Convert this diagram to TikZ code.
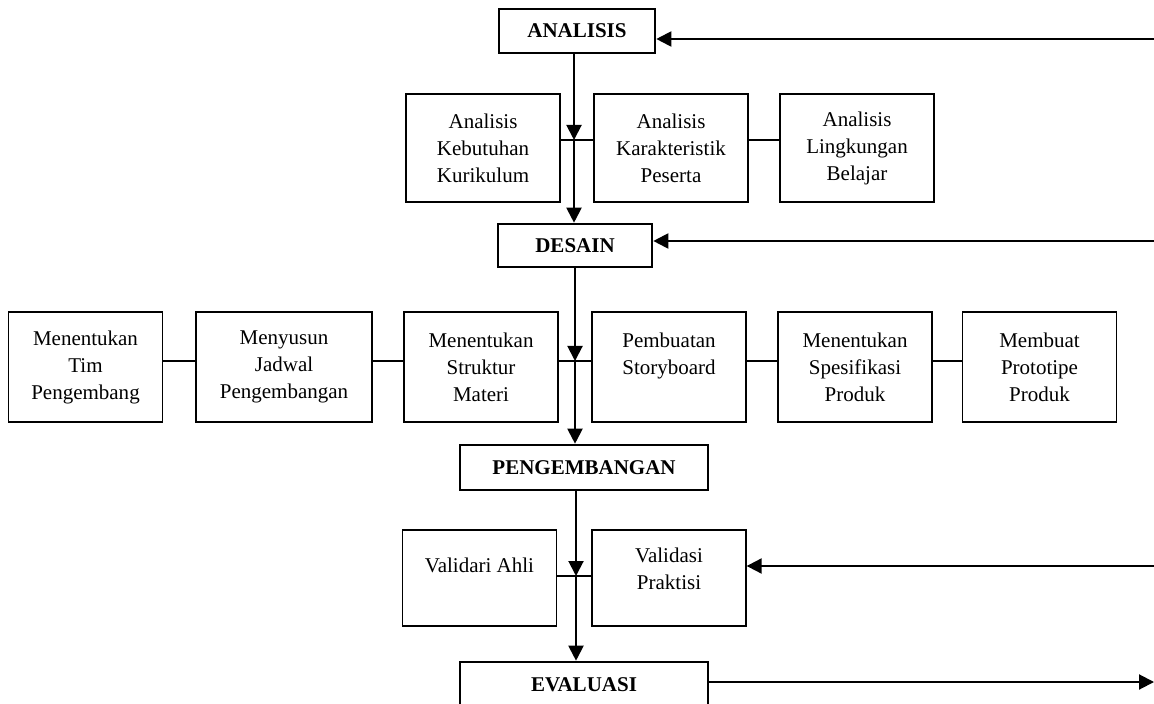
\documentclass[tikz,border=0pt]{standalone}
\usepackage{fontspec}
\setmainfont{Liberation Serif}
\usetikzlibrary{positioning, arrows.meta}

\begin{document}
\begin{tikzpicture}[x=0.5pt, y=-0.5pt,
    every node/.style={align=center, font=\fontsize{10.5}{13.5}\selectfont},
    stage/.style={draw, line width=1.3pt, minimum width=78pt, minimum height=22pt, font=\fontsize{10.5}{13.5}\selectfont\bfseries},
    box/.style={draw, line width=0.65pt, minimum width=77pt},
    flow/.style={line width=1pt, -{Triangle[length=7.5pt, width=7.5pt]}},
    link/.style={line width=0.65pt}]
    \useasboundingbox (0,0) rectangle (1154,704);
    \node[stage] (analisis) at (577,31) {ANALISIS};
    \node[stage, minimum width=77pt, minimum height=21.5pt] (desain) at (575,245.5) {DESAIN};
    \node[stage, minimum width=124pt, minimum height=22.5pt] (pengembangan) at (584,467.5) {PENGEMBANGAN};
    \node[stage, minimum width=124pt, minimum height=22.5pt] (evaluasi) at (584,684.5) {EVALUASI};
    \node[box, minimum height=54pt] (a1) at (483,148) {Analisis\\Kebutuhan\\Kurikulum};
    \node[box, minimum height=54pt] (a2) at (671,148) {Analisis\\Karakteristik\\Peserta};
    \node[box, minimum height=54pt] (a3) at (857,148) {Analisis\\Lingkungan\\Belajar};
    \node[box, minimum height=55pt] (b1) at (85.5,367) {Menentukan\\Tim\\Pengembang};
    \node[box, minimum height=55pt, minimum width=88pt] (b2) at (284,367) {Menyusun\\Jadwal\\Pengembangan};
    \node[box, minimum height=55pt] (b3) at (481,367) {Menentukan\\Struktur\\Materi};
    \node[box, minimum height=55pt] (b4) at (669,367) {Pembuatan\\Storyboard\\[-4pt]\strut};
    \node[box, minimum height=55pt] (b5) at (855,367) {Menentukan\\Spesifikasi\\Produk};
    \node[box, minimum height=55pt] (b6) at (1039.5,367) {Membuat\\Prototipe\\Produk};
    \node[box, minimum height=48pt] (c1) at (479.5,578) {Validari Ahli\\[-5pt]\strut};
    \node[box, minimum height=48pt] (c2) at (669,578) {Validasi\\Praktisi\\[-8.5pt]\strut};
    \coordinate (j1) at (574,140);
    \coordinate (j2) at (575,361);
    \coordinate (j3) at (576,576);
    \coordinate (r1) at (1154,39);
    \coordinate (r2) at (1154,241);
    \coordinate (r3) at (1154,566);
    \coordinate (r4) at (1154,682);
    \draw[link] (a1.east |- j1) -- (a2.west |- j1) (a2.east |- j1) -- (a3.west |- j1);
    \draw[link] (b1.east |- j2) -- (b2.west |- j2) (b2.east |- j2) -- (b3.west |- j2) (b3.east |- j2) -- (b4.west |- j2);
    \draw[link] (b4.east |- j2) -- (b5.west |- j2) (b5.east |- j2) -- (b6.west |- j2);
    \draw[link] (c1.east |- j3) -- (c2.west |- j3);
    \draw[flow] (j1 |- analisis.south) -- (j1);
    \draw[flow] (j1) -- (j1 |- desain.north);
    \draw[flow] (j2 |- desain.south) -- (j2);
    \draw[flow] (j2) -- (j2 |- pengembangan.north);
    \draw[flow] (j3 |- pengembangan.south) -- (j3);
    \draw[flow] (j3) -- (j3 |- evaluasi.north);
    \draw[flow] (r1) -- (r1 -| analisis.east);
    \draw[flow] (r2) -- (r2 -| desain.east);
    \draw[flow] (r3) -- (r3 -| c2.east);
    \draw[flow] (evaluasi.east |- r4) -- (r4);
\end{tikzpicture}
\end{document}
